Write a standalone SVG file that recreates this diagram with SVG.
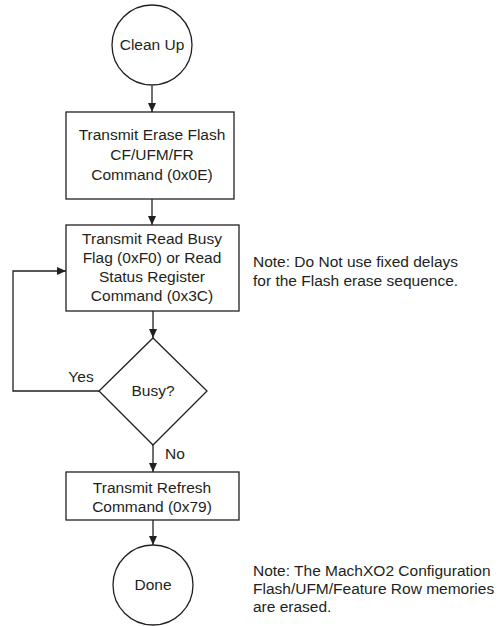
<svg xmlns="http://www.w3.org/2000/svg" width="502" height="626" viewBox="0 0 502 626">
<defs>
<marker id="ah" markerWidth="10" markerHeight="10" refX="9" refY="5" orient="auto" markerUnits="userSpaceOnUse">
<path d="M0,1 L9,5 L0,9 Z" fill="#231f20"/>
</marker>
<style>
.s{fill:#fff;stroke:#231f20;stroke-width:1.3}
.c{fill:none;stroke:#231f20;stroke-width:1.3}
text{font-family:"Liberation Sans",Arial,sans-serif;font-size:15.5px;fill:#231f20}
.m{text-anchor:middle}
</style>
</defs>
<rect width="502" height="626" fill="#fff"/>
<g id="connectors">
<line class="c" x1="152" y1="86" x2="152" y2="112" marker-end="url(#ah)"/>
<line class="c" x1="152" y1="199" x2="152" y2="225" marker-end="url(#ah)"/>
<line class="c" x1="153" y1="311" x2="153" y2="338" marker-end="url(#ah)"/>
<polyline class="c" points="99,391 13,391 13,271 66,271" marker-end="url(#ah)"/>
<line class="c" x1="153" y1="445" x2="153" y2="472" marker-end="url(#ah)"/>
<line class="c" x1="153" y1="520" x2="153" y2="545" marker-end="url(#ah)"/>
<text x="81" y="382" class="m">Yes</text>
<text x="175" y="459" class="m">No</text>
</g>
<g id="cleanup">
<circle class="s" cx="152" cy="45" r="40"/>
<text x="152" y="50" class="m">Clean Up</text>
</g>
<g id="erase">
<rect class="s" x="66" y="112" width="168" height="87"/>
<text x="152" y="140" class="m">Transmit Erase Flash</text>
<text x="152" y="160" class="m">CF/UFM/FR</text>
<text x="152" y="180" class="m">Command (0x0E)</text>
</g>
<g id="readbusy">
<rect class="s" x="66" y="225" width="173" height="86"/>
<text x="152" y="244" class="m">Transmit Read Busy</text>
<text x="152" y="263" class="m">Flag (0xF0) or Read</text>
<text x="152" y="282" class="m">Status Register</text>
<text x="152" y="301" class="m">Command (0x3C)</text>
</g>
<g id="busy">
<polygon class="s" points="153,338 207,391 153,445 99,391"/>
<text x="153" y="396" class="m">Busy?</text>
</g>
<g id="refresh">
<rect class="s" x="66" y="472" width="173" height="48"/>
<text x="152" y="493" class="m">Transmit Refresh</text>
<text x="152" y="512" class="m">Command (0x79)</text>
</g>
<g id="done">
<circle class="s" cx="153" cy="585" r="40"/>
<text x="153" y="590" class="m">Done</text>
</g>
<g id="note1">
<text x="253" y="267">Note: Do Not use fixed delays</text>
<text x="253" y="286">for the Flash erase sequence.</text>
</g>
<g id="note2">
<text x="253" y="576">Note: The MachXO2 Configuration</text>
<text x="253" y="594">Flash/UFM/Feature Row memories</text>
<text x="253" y="612">are erased.</text>
</g>
</svg>
